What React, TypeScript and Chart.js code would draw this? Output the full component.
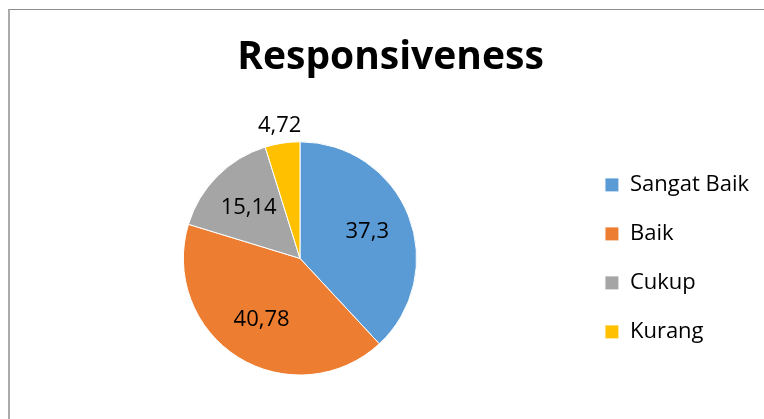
import { useEffect, useRef } from "react";
import { Chart, registerables } from "chart.js";

Chart.register(...registerables);

const categories = ["Sangat Baik", "Baik", "Cukup", "Kurang"];
const values = [37.3, 40.78, 15.14, 4.72];
const colors = ["#5B9BD5", "#ED7D31", "#A5A5A5", "#FFC000"];
const chartTitle = "Responsiveness";

const FONT = "'Open Sans', 'Noto Sans', sans-serif";

// Decimal comma, as in the Indonesian source
const formatValue = (v: number) => String(v).replace(".", ",");

// Draws each slice's value: inside the slice, or just outside for thin slices
const sliceLabels = {
  id: "sliceLabels",
  afterDatasetsDraw(chart: any) {
    const { ctx } = chart;
    const meta = chart.getDatasetMeta(0);
    const data = chart.data.datasets[0].data as number[];
    const total = data.reduce((a, b) => a + b, 0);
    ctx.save();
    ctx.font = `22px ${FONT}`;
    ctx.fillStyle = "#000";
    ctx.textAlign = "center";
    ctx.textBaseline = "middle";
    meta.data.forEach((arc: any, i: number) => {
      const { x, y, startAngle, endAngle, outerRadius } = arc.getProps(
        ["x", "y", "startAngle", "endAngle", "outerRadius"],
        true
      );
      const mid = (startAngle + endAngle) / 2;
      const share = data[i] / total;
      const dist = share < 0.08 ? outerRadius + 18 : outerRadius * 0.62;
      ctx.fillText(formatValue(data[i]), x + Math.cos(mid) * dist, y + Math.sin(mid) * dist);
    });
    ctx.restore();
  },
};

export default function App() {
  const canvasRef = useRef<HTMLCanvasElement | null>(null);

  useEffect(() => {
    if (!canvasRef.current) return;
    const chart = new Chart(canvasRef.current, {
      type: "pie",
      data: {
        labels: categories,
        datasets: [
          {
            data: values,
            backgroundColor: colors,
            borderColor: "#ffffff",
            borderWidth: 1,
          },
        ],
      },
      options: {
        responsive: false,
        animation: false,
        layout: { padding: { top: 0, bottom: 43.5, left: 12, right: 5 } },
        plugins: {
          title: {
            display: true,
            text: chartTitle,
            color: "#000",
            font: { family: FONT, size: 39, weight: "bold" },
            padding: { top: 24, bottom: 60.5 },
          },
          legend: {
            position: "right",
            fullSize: false,
            labels: {
              boxWidth: 14,
              boxHeight: 14,
              padding: 27,
              color: "#000",
              font: { family: FONT, size: 22 },
            },
          },
          tooltip: { enabled: false },
        },
      },
      plugins: [sliceLabels],
    });
    return () => chart.destroy();
  }, []);

  return (
    <div
      style={{
        position: "fixed",
        left: 8,
        top: 9,
        width: 756,
        height: 410,
        boxSizing: "border-box",
        borderTop: "1px solid #8c8c8c",
        borderLeft: "2px solid #ababab",
        background: "#fff",
      }}
    >
      <canvas ref={canvasRef} width={754} height={409} style={{ display: "block" }} />
    </div>
  );
}
